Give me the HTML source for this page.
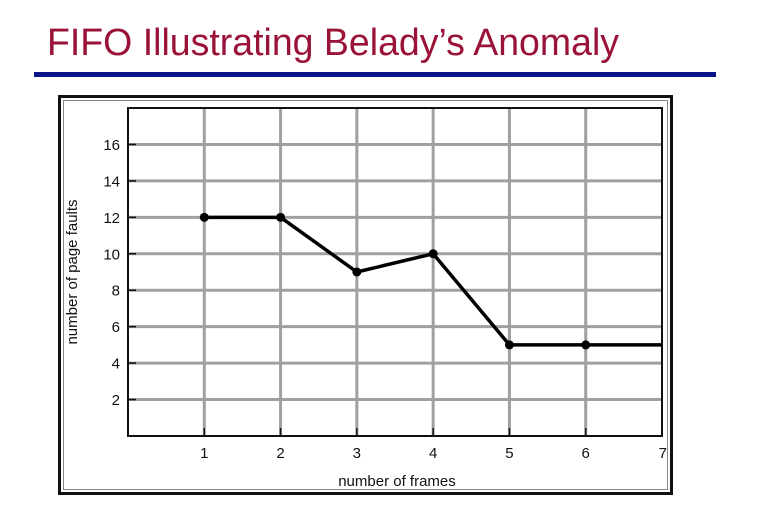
<!DOCTYPE html>
<html><head><meta charset="utf-8"><style>
html,body{margin:0;padding:0;background:#fff;}
svg{display:block;font-family:"Liberation Sans",Arial,sans-serif;}
</style></head><body>
<svg width="762" height="519" viewBox="0 0 762 519">
<text x="47" y="55" font-size="38" fill="#9b1239" textLength="572" lengthAdjust="spacingAndGlyphs">FIFO Illustrating Belady’s Anomaly</text>
<rect x="34" y="72" width="682" height="5" fill="#0b1487"/>
<rect x="59.5" y="96.5" width="612" height="397" fill="none" stroke="#111" stroke-width="3"/>
<rect x="63.5" y="100.5" width="604" height="389" fill="none" stroke="#888" stroke-width="1"/>
<g id="chart"></g>
<text x="397" y="486" font-size="15" text-anchor="middle" fill="#111">number of frames</text>
<text transform="translate(77,272) rotate(-90)" font-size="15" text-anchor="middle" fill="#111">number of page faults</text>
</svg>
<script>
const frames=[1,2,3,4,5,6,7];
const faults=[12,12,9,10,5,5,5];
const xTicks=[1,2,3,4,5,6,7];
const yTicks=[2,4,6,8,10,12,14,16];
const L=128,R=662,T=108,B=436,XMAX=7,YMAX=18;
const sx=v=>L+(R-L)*v/XMAX, sy=v=>B-(B-T)*v/YMAX;
const ns='http://www.w3.org/2000/svg', g=document.getElementById('chart');
function mk(t,a){const e=document.createElementNS(ns,t);for(const k in a)e.setAttribute(k,a[k]);g.appendChild(e);return e;}
yTicks.forEach(v=>{
 const l=mk('line',{x1:L,x2:R,y1:sy(v),y2:sy(v),stroke:'#a0a0a0','stroke-width':3});
 
 
 const tk=mk('line',{x1:L,x2:L+8,y1:sy(v),y2:sy(v),stroke:'#111','stroke-width':1.5});
 
 
 const t=mk('text',{x:L-8,y:sy(v)+5.5,'font-size':15,'text-anchor':'end',fill:'#111'});
 t.textContent=v;
 
 
});
xTicks.forEach(v=>{
 if(v<XMAX){
 const l=mk('line',{x1:sx(v),x2:sx(v),y1:T,y2:B,stroke:'#a0a0a0','stroke-width':3});
 
 
 const tk=mk('line',{x1:sx(v),x2:sx(v),y1:B-8,y2:B,stroke:'#111','stroke-width':1.5});
 
 
 }
 const t=mk('text',{x:sx(v),y:B+22,'font-size':15,'text-anchor':v===XMAX?'end':'middle',fill:'#111'});
 if(v===XMAX)t.setAttribute('x',sx(v)+5);
 t.textContent=v;
 
 
});
const ax=mk('rect',{x:L,y:T,width:R-L,height:B-T,fill:'none',stroke:'#111','stroke-width':2});


const pl=mk('polyline',{points:frames.map((f,i)=>sx(f)+','+sy(faults[i])).join(' '),fill:'none',stroke:'#000','stroke-width':3.5,'stroke-linejoin':'round'});


frames.forEach((f,i)=>{
 if(f>=XMAX)return;
 const c=mk('circle',{cx:sx(f),cy:sy(faults[i]),r:4.5,fill:'#000'});
 
 
});
</script>
</body></html>
